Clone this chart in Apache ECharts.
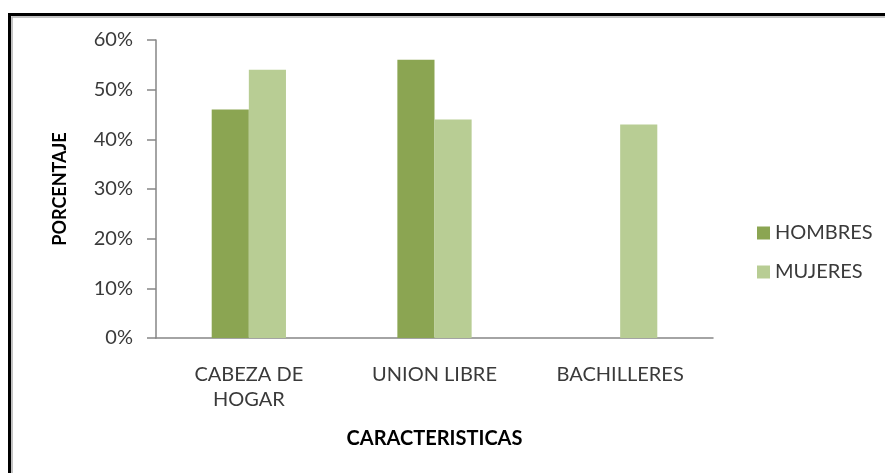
<!DOCTYPE html>
<html>
<head>
<meta charset="utf-8">
<script src="https://cdn.jsdelivr.net/npm/echarts@6/dist/echarts.min.js"></script>
<style>
html,body{margin:0;padding:0;background:#fff;}
#chart{width:885px;height:473px;}
</style>
</head>
<body>
<div id="chart"></div>
<script>
const categories = ['CABEZA DE\nHOGAR', 'UNION LIBRE', 'BACHILLERES'];
const hombres = [46, 56, null];
const mujeres = [54, 44, 43];
const yTicks = [0, 10, 20, 30, 40, 50, 60];

const chart = echarts.init(document.getElementById('chart'));
const font = 'Lato';
chart.setOption({
  animation: false,
  backgroundColor: '#ffffff',
  graphic: [
    {type: 'rect', shape: {x: 9.5, y: 14.5, width: 1000, height: 600}, style: {fill: 'none', stroke: '#000', lineWidth: 3}, silent: true},
    {type: 'rect', shape: {x: 12, y: 17, width: 1000, height: 600}, style: {fill: 'none', stroke: '#b0b0b0', lineWidth: 1.5}, silent: true}
  ],
  grid: {left: 156, right: 172, top: 40, bottom: 135, containLabel: false},
  legend: {
    orient: 'vertical',
    left: 752,
    top: 218,
    itemWidth: 13,
    itemHeight: 13,
    itemGap: 19,
    icon: 'rect',
    textStyle: {fontFamily: font, fontSize: 20, color: '#3a3a3a', lineHeight: 20},
    data: ['HOMBRES', 'MUJERES']
  },
  xAxis: {
    type: 'category',
    data: categories,
    name: 'CARACTERISTICAS',
    nameLocation: 'middle',
    nameGap: 91,
    nameTextStyle: {fontFamily: font, fontSize: 20, fontWeight: 'bold', color: '#000'},
    axisLine: {lineStyle: {color: '#868686', width: 1.5}},
    axisTick: {show: false},
    axisLabel: {fontFamily: font, fontSize: 20, color: '#3a3a3a', margin: 24, lineHeight: 25, interval: 0}
  },
  yAxis: {
    type: 'value',
    min: 0,
    max: 60,
    interval: 10,
    name: 'PORCENTAJE',
    nameLocation: 'middle',
    nameGap: 87,
    nameTextStyle: {fontFamily: font, fontSize: 18, fontWeight: 'bold', color: '#000'},
    axisLine: {show: true, lineStyle: {color: '#868686', width: 1.5}},
    axisTick: {show: true, length: 9, lineStyle: {color: '#868686', width: 1.5}},
    splitLine: {show: false},
    axisLabel: {fontFamily: font, fontSize: 20, color: '#3a3a3a', margin: 23, formatter: v => yTicks.includes(v) ? v + '%' : ''}
  },
  series: [
    {name: 'HOMBRES', type: 'bar', data: hombres, itemStyle: {color: '#8ba552'}, barGap: '0%', barCategoryGap: '60%'},
    {name: 'MUJERES', type: 'bar', data: mujeres, itemStyle: {color: '#b8cd94'}, barGap: '0%', barCategoryGap: '60%'}
  ]
});
</script>
</body>
</html>
